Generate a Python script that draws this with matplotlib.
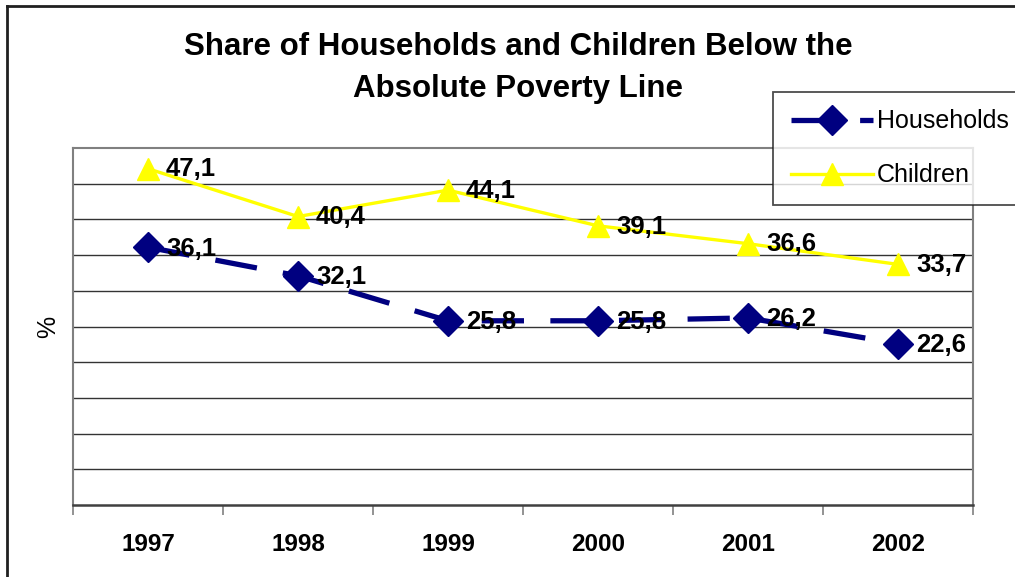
import matplotlib.pyplot as plt
from matplotlib.lines import Line2D
import numpy as np

plt.rcParams['font.family'] = ['Liberation Sans', 'DejaVu Sans']

# share below the absolute poverty line, %
years = ['1997', '1998', '1999', '2000', '2001', '2002']
households = [36.1, 32.1, 25.8, 25.8, 26.2, 22.6]
children = [47.1, 40.4, 44.1, 39.1, 36.6, 33.7]

fig = plt.figure(figsize=(10.15, 5.77), dpi=100)
ax = fig.add_axes([73 / 1015, 1 - 505 / 577, 900 / 1015, 357 / 577])

x = np.arange(len(years))

# gridlines every 5 %
for g in range(5, 50, 5):
    ax.axhline(g, color='#333333', lw=1.0, zorder=1)

hh_line, = ax.plot(x, households, color='#000080', lw=3.8, dashes=(8, 5),
                   marker='D', markersize=15, zorder=3, label='Households')
ch_line, = ax.plot(x, children, color='#FFFF00', lw=2.4,
                   marker='^', markersize=16, zorder=3, label='Children')

def fmt(v):
    return f'{v:.1f}'.replace('.', ',')

for xi, v in zip(x, households):
    ax.annotate(fmt(v), (xi, v), xytext=(13, -1), textcoords='offset points',
                ha='left', va='center', fontsize=18.5, fontweight='bold', zorder=4)
for xi, v in zip(x, children):
    ax.annotate(fmt(v), (xi, v), xytext=(13, -0.5), textcoords='offset points',
                ha='left', va='center', fontsize=18.5, fontweight='bold', zorder=4)

ax.set_xlim(-0.5, len(years) - 0.5)
ax.set_ylim(0, 50)

# category ticks sit between the years
ax.set_xticks(np.arange(-0.5, len(years), 1.0))
ax.set_xticklabels([])
ax.set_xticks(x, minor=True)
ax.set_xticklabels(years, minor=True, fontsize=17.5, fontweight='bold')
ax.tick_params(axis='x', which='major', length=7, width=1.2, color='#808080')
ax.tick_params(axis='x', which='minor', length=0, pad=20)
ax.set_yticks([])

for side in ('left', 'top', 'right'):
    ax.spines[side].set_color('#808080')
    ax.spines[side].set_linewidth(1.5)
ax.spines['bottom'].set_color('#404040')
ax.spines['bottom'].set_linewidth(1.8)

ax.set_ylabel('%', fontsize=18, labelpad=9)

fig.text(518 / 1015, 1 - 47 / 577, 'Share of Households and Children Below the',
         ha='center', va='center', fontsize=22.5, fontweight='bold')
fig.text(518 / 1015, 1 - 89 / 577, 'Absolute Poverty Line',
         ha='center', va='center', fontsize=22.5, fontweight='bold')

# outer chart frame
fig.add_artist(Line2D([7 / 1015, 7 / 1015], [0, 1 - 6 / 577], color='#202020', lw=2,
                      transform=fig.transFigure))
fig.add_artist(Line2D([7 / 1015, 1], [1 - 6 / 577, 1 - 6 / 577], color='#202020', lw=2,
                      transform=fig.transFigure))

leg = fig.legend(handles=[hh_line, ch_line], loc='upper left',
                 bbox_to_anchor=(773 / 1015, 1 - 92 / 577), fontsize=18,
                 frameon=True, fancybox=False, borderpad=0.7, labelspacing=1.2,
                 handlelength=3.3, handletextpad=0.15, borderaxespad=0)
leg.get_frame().set_edgecolor('#202020')
leg.get_frame().set_linewidth(1.3)

fig.savefig('out.png', dpi=100)
